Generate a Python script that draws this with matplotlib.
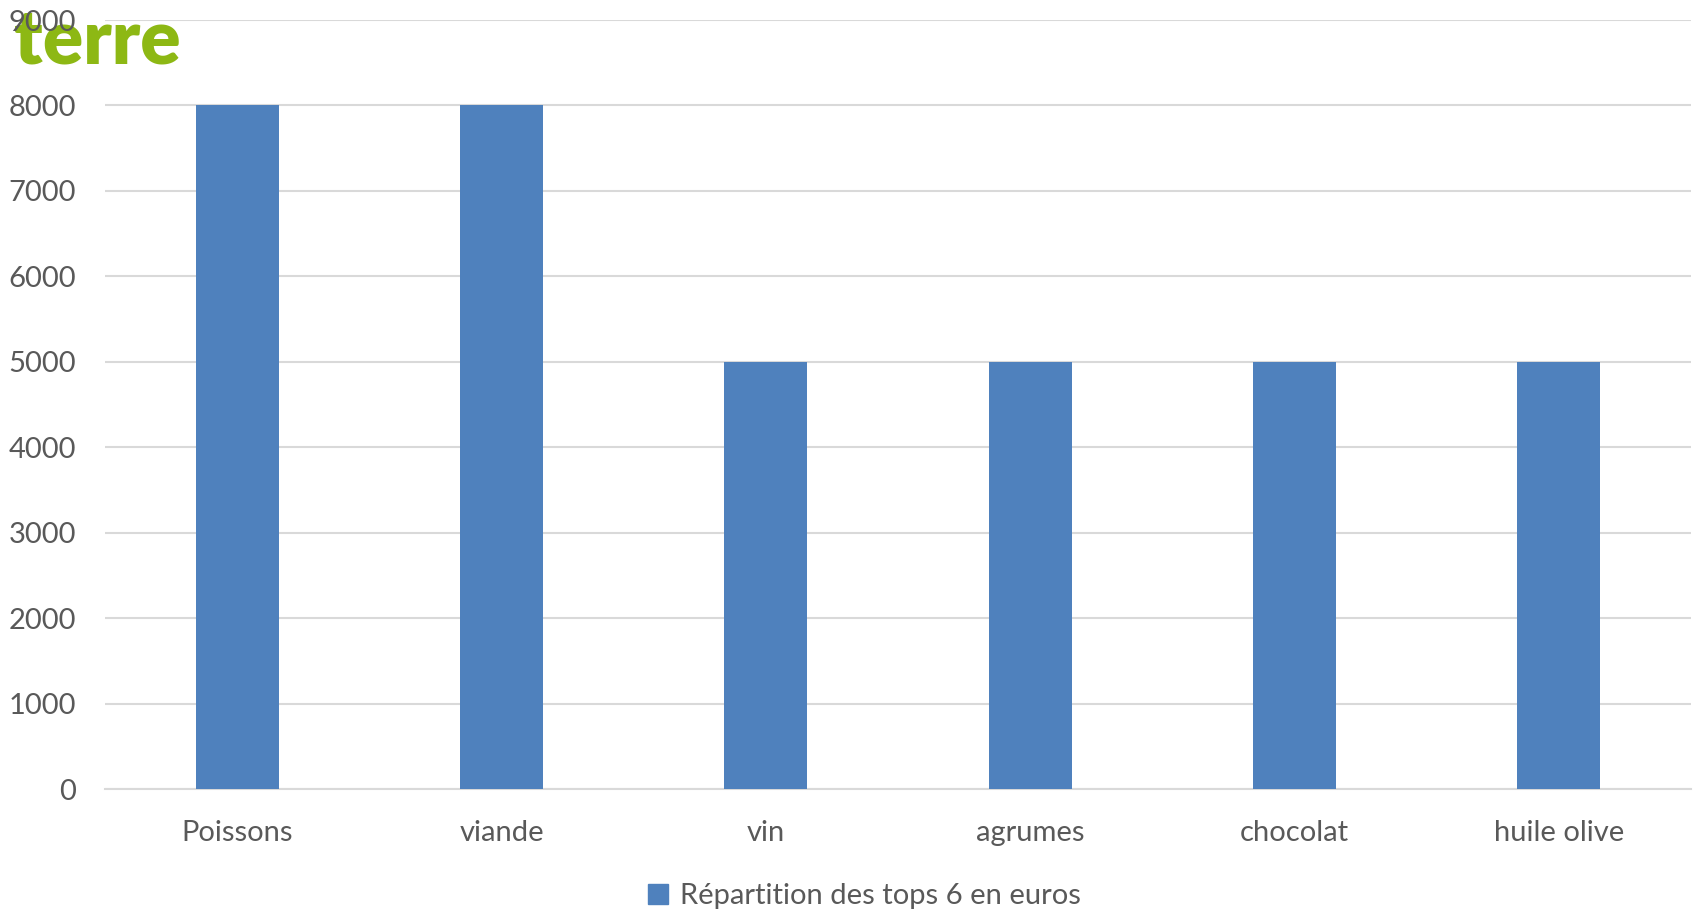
import matplotlib.pyplot as plt
from matplotlib.patches import Patch

categories = ["Poissons", "viande", "vin", "agrumes", "chocolat", "huile olive"]
values = [8000, 8000, 5000, 5000, 5000, 5000]
series_name = "Répartition des tops 6 en euros"
yticks = [0, 1000, 2000, 3000, 4000, 5000, 6000, 7000, 8000, 9000]

bar_color = "#4F81BD"
text_color = "#595959"
grid_color = "#D9D9D9"

plt.rcParams["font.family"] = ["Lato", "DejaVu Sans"]

fig = plt.figure(figsize=(16.96, 9.11), dpi=100)
ax = fig.add_axes([105 / 1696, 1 - 789 / 911, (1691 - 105) / 1696, (789 - 20) / 911])

x = list(range(len(categories)))
ax.bar(x, values, width=0.315, color=bar_color, zorder=3)

ax.set_xlim(-0.5, len(categories) - 0.5)
ax.set_ylim(0, 9000)
ax.set_yticks(yticks)
ax.set_yticklabels([str(t) for t in yticks])
ax.set_xticks(x)
ax.set_xticklabels(categories)
ax.tick_params(axis="both", length=0, labelsize=21, colors=text_color)
ax.tick_params(axis="y", pad=21)
ax.tick_params(axis="x", pad=22)
for lab in ax.get_yticklabels():
    lab.set_horizontalalignment("right")

ax.grid(axis="y", color=grid_color, linewidth=1.5, zorder=0)
for s in ["top", "right", "left"]:
    ax.spines[s].set_visible(False)
ax.spines["bottom"].set_color(grid_color)
ax.spines["bottom"].set_linewidth(1.5)

# logo sitting behind the top-left tick label
ax.text(14 / 1696, 1 - 41 / 911, "terre", color="#8DB814", fontsize=54,
        fontweight="heavy", ha="left", va="center", zorder=0,
        transform=fig.transFigure, clip_on=False)

handle = Patch(color=bar_color, label=series_name)
fig.legend(handles=[handle], loc="center", bbox_to_anchor=(864 / 1696, 1 - 896 / 911),
           frameon=False, fontsize=21, labelcolor=text_color,
           handlelength=0.7, handleheight=0.7, handletextpad=0.4)

fig.savefig("out.png", dpi=100, facecolor="white")
